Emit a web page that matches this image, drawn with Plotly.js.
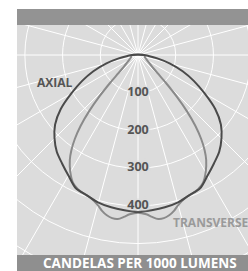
<!DOCTYPE html>
<html><head><meta charset="utf-8">
<script src="https://cdn.plot.ly/plotly-3.0.1.min.js"></script>
<style>
html,body{margin:0;padding:0;background:#fff;width:248px;height:271px;overflow:hidden;}
#wrap{position:absolute;left:17px;top:9px;width:231px;height:262px;overflow:hidden;background:#dcdcdc;}
#plot{position:absolute;left:-143px;top:-218px;width:528px;height:528px;}
</style></head><body>
<div id="wrap"><div id="plot"></div></div>
<script>
// Angles in degrees from nadir (negative = left side), intensities in cd per 1000 lm
const axialTheta = [90, -90, -85, -80, -75, -70, -65, -60, -55, -50, -45, -40, -35, -30, -25, -20, -15, -10, -5, 0,
                    5, 10, 15, 20, 25, 30, 35, 40, 45, 50, 55, 60, 65, 70, 75, 80, 85, 90];
const axialR     = [16, 16, 28, 52, 88, 126, 164, 204, 250, 287, 313, 335, 351, 369, 390, 396, 405, 410, 413, 416,
                    413, 410, 405, 396, 390, 369, 351, 335, 313, 287, 250, 204, 164, 126, 88, 52, 28, 16];
const transTheta = [90, -90, -70, -60, -50, -47, -45, -43, -41, -39, -37, -35, -33, -30, -27, -24, -21, -18, -15, -13, -11, -9, -7, -5, -3, 0,
                    3, 5, 7, 9, 11, 13, 15, 18, 21, 24, 27, 30, 33, 35, 37, 39, 41, 43, 45, 47, 50, 60, 70, 90];
const transR     = [16, 16, 20, 28, 50, 72, 105, 150, 198, 242, 278, 308, 332, 359, 380, 390, 395, 400, 412, 424, 433, 438, 438, 431, 423, 418,
                    423, 431, 438, 438, 433, 424, 412, 400, 395, 390, 380, 359, 332, 308, 278, 242, 198, 150, 105, 72, 50, 28, 20, 16];
const tickValues = [100, 200, 300, 400];
const tickLabels = ['100', '200', '300', '400'];
const seriesNames = ['AXIAL', 'TRANSVERSE'];
const footerText = 'CANDELAS PER 1000 LUMENS';

const S = 528;
const px = X => (X + 126) / S;
const py = Y => 1 - (Y + 209) / S;

const traces = [
  {type: 'scatterpolar', mode: 'lines', r: transR, theta: transTheta,
   line: {color: '#8a8a8a', width: 2, shape: 'spline', smoothing: 0.8}, hoverinfo: 'skip'},
  {type: 'scatterpolar', mode: 'lines', r: axialR, theta: axialTheta,
   line: {color: '#4a4a4a', width: 2, shape: 'spline', smoothing: 0.8}, hoverinfo: 'skip'},
  {type: 'scatterpolar', mode: 'text', r: tickValues, theta: tickValues.map(() => 0), text: tickLabels,
   textposition: 'middle center',
   textfont: {family: 'Open Sans', size: 12.5, weight: 'bold', color: '#555555',
              shadow: '0 0 2px #dcdcdc, 0 0 2px #dcdcdc, 0 0 3px #dcdcdc, 0 0 3px #dcdcdc, 0 0 4px #dcdcdc'},
   hoverinfo: 'skip'}
];

const layout = {
  width: S, height: S, margin: {l: 0, r: 0, t: 0, b: 0, pad: 0},
  paper_bgcolor: 'rgba(0,0,0,0)', showlegend: false,
  polar: {
    domain: {x: [0, 1], y: [0, 1]},
    bgcolor: '#dcdcdc',
    radialaxis: {range: [0, 700], tickmode: 'linear', tick0: 0, dtick: 100, showgrid: true,
                 gridcolor: '#ffffff', gridwidth: 1, showticklabels: false, ticks: '', showline: false},
    angularaxis: {rotation: -90, direction: 'counterclockwise', tickmode: 'linear', tick0: 0, dtick: 15,
                  showgrid: true, gridcolor: '#ffffff', gridwidth: 1, showticklabels: false, ticks: '', showline: false}
  },
  shapes: [
    {type: 'rect', xref: 'paper', yref: 'paper', x0: px(17), x1: px(248), y0: py(25), y1: py(9),
     fillcolor: '#939393', line: {width: 0}, layer: 'above'},
    {type: 'rect', xref: 'paper', yref: 'paper', x0: px(17), x1: px(248), y0: py(271), y1: py(255),
     fillcolor: '#8f8f8f', line: {width: 0}, layer: 'above'}
  ],
  annotations: [
    {xref: 'paper', yref: 'paper', x: px(54.5), y: py(82.5), text: seriesNames[0], showarrow: false,
     xanchor: 'center', yanchor: 'middle', font: {family: 'Open Sans', size: 12, weight: 'bold', color: '#555555'}},
    {xref: 'paper', yref: 'paper', x: px(211), y: py(222.5), text: seriesNames[1], showarrow: false,
     xanchor: 'center', yanchor: 'middle', font: {family: 'Open Sans', size: 12, weight: 'bold', color: '#9a9a9a'}},
    {xref: 'paper', yref: 'paper', x: px(140), y: py(263), text: footerText, showarrow: false,
     xanchor: 'center', yanchor: 'middle', font: {family: 'Open Sans', size: 13.5, weight: 'bold', color: '#ffffff'}}
  ]
};

Plotly.newPlot('plot', traces, layout, {displayModeBar: false, staticPlot: true});
</script>
</body></html>
